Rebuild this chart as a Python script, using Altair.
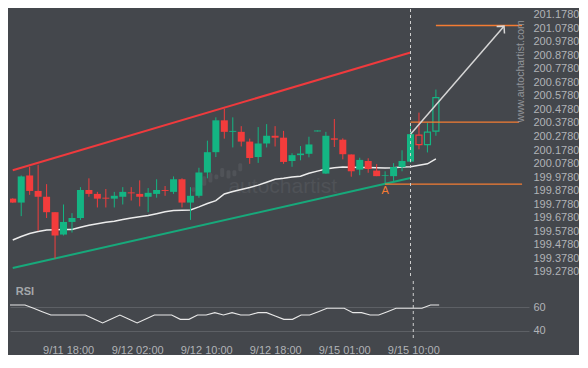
import json
import altair as alt
import pandas as pd

BG = "#44474c"
TXT = "#b1b3b7"
GREEN = "#14b583"
RED = "#f33c3c"
CH_RED = "#ef3a3d"
CH_GREEN = "#17a97b"
ORANGE = "#f47c33"
FONT = "Liberation Sans"

# ---- candle data (hourly, index 0..50) ----
idx = list(range(51))
opens = [199.819, 199.790, 199.990, 199.876, 199.833, 199.719, 199.554, 199.647, 199.676, 199.883,
         199.854, 199.826, 199.819, 199.833, 199.865, 199.854, 199.833, 199.854, 199.883, 199.869,
         199.962, 199.790, 199.840, 200.012, 200.162, 200.397, 200.312, 200.312, 200.240, 200.126,
         200.226, 200.283, 200.269, 200.097, 200.140, 200.150, 200.315, 200.004, 200.264, 200.254,
         200.145, 200.033, 200.097, 200.026, 199.987, 199.985, 200.052, 200.092, 200.288, 200.217,
         200.317]
highs = [199.822, 199.990, 200.054, 200.069, 199.926, 199.719, 199.776, 199.712, 199.904, 199.969,
         199.869, 199.890, 199.869, 199.904, 199.904, 199.954, 199.897, 199.962, 199.912, 199.983,
         199.969, 199.904, 200.047, 200.247, 200.419, 200.483, 200.419, 200.354, 200.262, 200.347,
         200.369, 200.354, 200.319, 200.154, 200.207, 200.276, 200.322, 200.312, 200.407, 200.264,
         200.145, 200.121, 200.117, 200.074, 200.021, 200.081, 200.176, 200.378, 200.454, 200.378,
         200.624]
lows = [199.788, 199.690, 199.847, 199.583, 199.676, 199.376, 199.547, 199.569, 199.662, 199.833,
        199.754, 199.754, 199.754, 199.776, 199.805, 199.762, 199.719, 199.826, 199.840, 199.854,
        199.754, 199.662, 199.826, 199.969, 200.126, 200.262, 200.197, 200.204, 200.076, 200.083,
        200.197, 200.204, 200.076, 200.054, 200.102, 200.124, 200.315, 200.002, 200.200, 200.109,
        199.981, 199.992, 200.010, 199.985, 199.926, 199.950, 200.021, 200.085, 200.183, 200.160,
        200.283]
closes = [199.790, 199.983, 199.876, 199.833, 199.719, 199.547, 199.647, 199.676, 199.883, 199.854,
          199.819, 199.819, 199.840, 199.869, 199.858, 199.833, 199.862, 199.883, 199.876, 199.962,
          199.790, 199.840, 200.012, 200.162, 200.397, 200.312, 200.319, 200.240, 200.119, 200.226,
          200.283, 200.269, 200.090, 200.140, 200.152, 200.219, 200.322, 200.283, 200.254, 200.147,
          200.021, 200.105, 200.038, 199.985, 199.992, 200.052, 200.097, 200.295, 200.217, 200.310,
          200.564]
hollow_from = 48  # candles from this index on are drawn hollow

ma = [199.514, 199.540, 199.562, 199.576, 199.587, 199.590, 199.592, 199.592, 199.608, 199.622,
      199.633, 199.644, 199.652, 199.665, 199.676, 199.685, 199.695, 199.708, 199.722, 199.731,
      199.733, 199.735, 199.758, 199.783, 199.804, 199.854, 199.872, 199.887, 199.901, 199.919,
      199.940, 199.962, 199.969, 199.979, 199.985, 200.006, 200.022, 200.037, 200.047, 200.052,
      200.051, 200.049, 200.049, 200.047, 200.045, 200.047, 200.052, 200.054, 200.065, 200.076,
      200.112]

rsi = [61.7, 61.7, 61.7, 58.9, 56.1, 53.3, 53.3, 53.3, 53.3, 53.3,
       50.0, 46.7, 50.0, 53.3, 50.0, 46.7, 50.0, 53.3, 53.3, 53.3,
       49.7, 49.7, 53.3, 53.3, 55.3, 53.3, 55.3, 53.3, 53.3, 55.3,
       55.3, 52.5, 49.7, 49.7, 53.3, 53.3, 56.1, 58.9, 58.9, 58.9,
       55.3, 55.3, 53.3, 53.3, 56.1, 58.9, 58.9, 58.9, 58.9, 61.7,
       61.7]

# channel lines (start/end index and price)
chan_x = [0, 47]
chan_red = [200.028, 200.897]
chan_green = [199.307, 199.971]

# orange levels
lvl_x0 = [50.0, 47.0, 44.0]
lvl_x1 = [60.18, 59.83, 60.18]
lvl_y = [201.097, 200.383, 199.926]

# arrow
arrow_x = [47, 58.05]
arrow_y = [200.295, 201.092]

marker_idx = [47]
point_a = (44, 199.878)

# logo ghost bars
logo_x = [21.36, 22.63, 23.36, 24.06, 24.75, 25.49, 26.19, 26.88]
logo_lo = [199.869, 199.914, 199.938, 199.962, 199.978, 199.967, 199.985, 200.021]
logo_hi = [199.904, 199.985, 200.009, 199.997, 200.045, 200.028, 200.028, 200.081]

tick_idx = [7, 15, 23, 31, 39, 47]
tick_labels = ["9/11 18:00", "9/12 02:00", "9/12 10:00", "9/12 18:00", "9/15 01:00", "9/15 10:00"]
price_ticks = [199.278, 199.378, 199.478, 199.578, 199.678, 199.778, 199.878, 199.978, 200.078, 200.178,
               200.278, 200.378, 200.478, 200.578, 200.678, 200.778, 200.878, 200.978, 201.078, 201.178]
rsi_ticks = [40, 60]

# ---- frames ----
cdf = pd.DataFrame({"i": idx, "o": opens, "h": highs, "l": lows, "c": closes})
cdf["dir"] = ["up" if c >= o else "down" for o, c in zip(opens, closes)]
cdf["hollow"] = [i >= hollow_from for i in idx]
madf = pd.DataFrame({"i": idx, "v": ma})
rsidf = pd.DataFrame({"i": idx, "v": rsi})
redf = pd.DataFrame({"i": chan_x, "v": chan_red})
grdf = pd.DataFrame({"i": chan_x, "v": chan_green})
lvdf = pd.DataFrame({"x0": lvl_x0, "x1": lvl_x1, "y": lvl_y})
ardf = pd.DataFrame({"i": arrow_x, "v": arrow_y})
mkdf = pd.DataFrame({"i": marker_idx})
logodf = pd.DataFrame({"i": logo_x, "lo": logo_lo, "hi": logo_hi})

W = 519
XDOM = [0.2665, 60.41]
xsc = alt.Scale(domain=XDOM, nice=False, zero=False)
ysc = alt.Scale(domain=[199.2260, 201.2186], nice=False, zero=False)
yax = alt.Axis(orient="right", values=price_ticks, format=".4f", title=None, domain=False,
               ticks=False, grid=False, labelColor=TXT, labelFont=FONT, labelFontSize=11,
               labelPadding=4, labelOverlap=False)
dir_scale = alt.Scale(domain=["up", "down"], range=[GREEN, RED])


def X(field):
    return alt.X(field, type="quantitative", scale=xsc, axis=None)


def Y(field):
    return alt.Y(field, type="quantitative", scale=ysc, axis=yax)


logo = alt.Chart(logodf).mark_bar(size=4, color="#505358", cornerRadius=1.5).encode(
    x=X("i"), y=Y("lo"), y2="hi")

wm = alt.Chart(pd.DataFrame({"t": ["autochartist"], "i": [31.9], "v": [199.904]})).mark_text(
    font=FONT, fontSize=21, color="#4f5257", align="center", baseline="middle"
).encode(x=X("i"), y=Y("v"), text="t:N")

ch_red = alt.Chart(redf).mark_line(strokeWidth=2, color=CH_RED).encode(x=X("i"), y=Y("v"))
ch_green = alt.Chart(grdf).mark_line(strokeWidth=2, color=CH_GREEN).encode(x=X("i"), y=Y("v"))

maline = alt.Chart(madf).mark_line(color="#ececec", strokeWidth=1.5, clip=True).encode(
    x=X("i"), y=Y("v"))

wicks = alt.Chart(cdf).mark_rule(strokeWidth=1, clip=True).encode(
    x=X("i"), y=Y("l"), y2="h",
    color=alt.Color("dir:N", scale=dir_scale, legend=None))

bodies = alt.Chart(cdf).transform_filter("!datum.hollow").mark_bar(size=7, clip=True).encode(
    x=X("i"), y=Y("o"), y2="c",
    color=alt.Color("dir:N", scale=dir_scale, legend=None))

hbodies = alt.Chart(cdf).transform_filter("datum.hollow").mark_bar(
    size=6, fill=BG, strokeWidth=1.2, clip=True).encode(
    x=X("i"), y=Y("o"), y2="c",
    stroke=alt.Stroke("dir:N", scale=dir_scale, legend=None))

levels = alt.Chart(lvdf).mark_rule(color=ORANGE, strokeWidth=1.3).encode(
    x=X("x0"), x2="x1", y=Y("y"))

arrow = alt.Chart(ardf).mark_line(color="#d6d6d6", strokeWidth=1.5).encode(
    x=X("i"), y=Y("v"))
head = alt.Chart(ardf.tail(1)).mark_point(
    shape="M-1,1L0,0L1,1", filled=False, size=110, angle=41.5, color="#d6d6d6",
    strokeWidth=1.5, opacity=1).encode(x=X("i"), y=Y("v"))

vline = alt.Chart(mkdf).mark_rule(color="#cfcfcf", strokeDash=[3, 3], strokeWidth=1).encode(
    x=X("i"))

alabel = alt.Chart(pd.DataFrame({"t": ["A"], "i": [point_a[0]], "v": [point_a[1]]})).mark_text(
    font=FONT, fontSize=11, color=ORANGE, align="center", baseline="middle"
).encode(x=X("i"), y=Y("v"), text="t:N")

url = alt.Chart(pd.DataFrame({"t": ["www.autochartist.com"], "i": [60.06], "v": [200.759]})).mark_text(
    font=FONT, fontSize=10.5, color="#92959a", angle=270, align="center", baseline="middle"
).encode(x=X("i"), y=Y("v"), text="t:N")

main = alt.layer(logo, wm, ch_red, ch_green, maline, wicks, bodies, hbodies, levels, arrow, head,
                 vline, alabel, url).properties(width=W, height=270)

# ---- RSI panel ----
rsc = alt.Scale(domain=[33.33, 81.67], nice=False, zero=False)
rax = alt.Axis(orient="right", values=rsi_ticks, title=None, domain=False, ticks=False,
               grid=True, gridColor="#5d6065", gridWidth=1, labelColor=TXT, labelFont=FONT,
               labelFontSize=11, labelPadding=4)
label_expr = json.dumps(tick_labels) + "[round((datum.value - 7) / 8)]"
xax = alt.Axis(values=tick_idx, labelExpr=label_expr, title=None, domain=False, ticks=False,
               grid=False, labelColor=TXT, labelFont=FONT, labelFontSize=11, labelPadding=5)


def RX(field):
    return alt.X(field, type="quantitative", scale=xsc, axis=xax)


def RY(field):
    return alt.Y(field, type="quantitative", scale=rsc, axis=rax)


rline = alt.Chart(rsidf).mark_line(color="#e8e8e8", strokeWidth=1.1, clip=True).encode(
    x=RX("i"), y=RY("v"))
rvline = alt.Chart(mkdf).mark_rule(color="#cfcfcf", strokeDash=[3, 3], strokeWidth=1).encode(
    x=RX("i"))
rtitle = alt.Chart(pd.DataFrame({"t": ["RSI"], "i": [2.0], "v": [72.5]})).mark_text(
    font=FONT, fontSize=11, fontWeight="bold", color="#a4a7ab", align="center", baseline="middle"
).encode(x=RX("i"), y=RY("v"), text="t:N")

rsi_panel = alt.layer(rline, rvline, rtitle).properties(width=W, height=58)

chart = alt.vconcat(main, rsi_panel, spacing=2, bounds="flush").resolve_scale(
    x="independent", y="independent"
).properties(padding=0, background=BG).configure_view(stroke=None)

chart.save("out.html", embed_options={"renderer": "svg", "actions": False})
